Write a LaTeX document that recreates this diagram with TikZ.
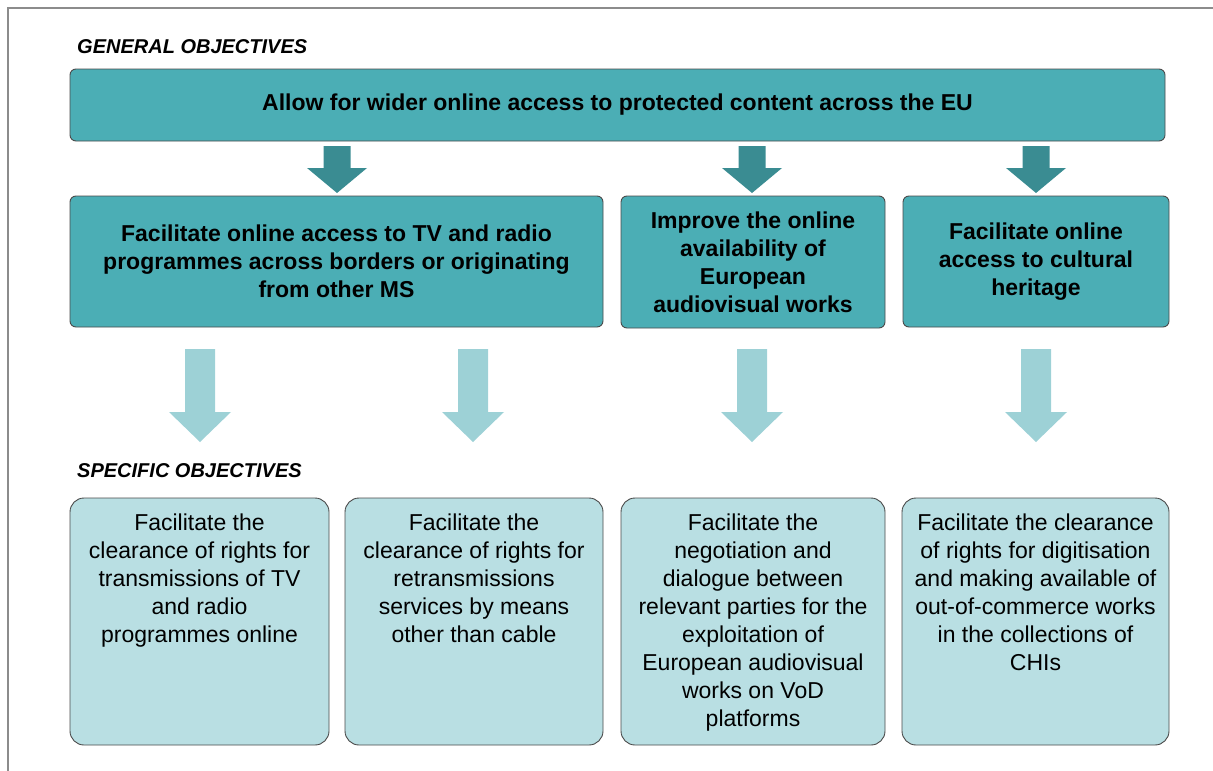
\documentclass[tikz,border=0pt]{standalone}
\usepackage{fontspec}
\setmainfont{Liberation Sans}
\definecolor{teal1}{HTML}{4BAEB5}
\definecolor{tealdark}{HTML}{3A8C92}
\definecolor{teallight}{HTML}{9DD1D6}
\definecolor{boxlight}{HTML}{B9DFE3}
\definecolor{edge}{HTML}{4A4A4A}
\definecolor{frame}{HTML}{8C8C8C}
\newcommand\blkarrow[7]{% color, cx, y0, yh, yt, sw, hw
  \fill[#1] (#2-#6,#3) -- (#2+#6,#3) -- (#2+#6,#4) -- (#2+#7,#4) -- (#2,#5)
    -- (#2-#7,#4) -- (#2-#6,#4) -- cycle;}
\begin{document}
\begin{tikzpicture}[x=1pt,y=-1pt,
  genbox/.style={draw=edge,line width=0.9pt,fill=teal1,rounded corners=6pt,
    inner sep=0pt,align=center,font=\fontsize{23}{28}\selectfont\bfseries},
  specbox/.style={draw=edge,line width=0.9pt,fill=boxlight,rounded corners=14pt,
    inner sep=0pt},
  spectext/.style={anchor=north,inner sep=0pt,align=center,
    font=\fontsize{23}{28}\selectfont},
  heading/.style={anchor=base west,inner sep=0pt,
    font=\fontsize{20}{22}\selectfont\bfseries\itshape}]
\useasboundingbox (0,0) rectangle (1213,771);
\draw[frame,line width=1.5pt] (8,771) -- (8,8) -- (1213,8);

\node[heading] (gh) at (77,53) {GENERAL OBJECTIVES};
\node[genbox,minimum width=1095pt,minimum height=72pt] (top) at (617.5,105)
  {Allow for wider online access to protected content across the EU};

\node[genbox,minimum width=533pt,minimum height=131pt] (g1) at (336.5,261.5)
  {Facilitate online access to TV and radio\\programmes across borders or originating\\from other MS};
\node[genbox,minimum width=264pt,minimum height=132pt] (g2) at (753,262)
  {Improve the online\\availability of\\European\\audiovisual works};
\node[genbox,minimum width=266pt,minimum height=131pt] (g3) at (1036,261.5)
  {Facilitate online\\access to cultural\\heritage};

\blkarrow{tealdark}{337}{146}{168}{193}{13.5}{30}
\blkarrow{tealdark}{752}{146}{168}{193}{13.5}{30}
\blkarrow{tealdark}{1036}{146}{168}{193}{13.5}{30}

\blkarrow{teallight}{200}{349}{412}{442}{15}{31}
\blkarrow{teallight}{473}{349}{412}{442}{15}{31}
\blkarrow{teallight}{752}{349}{412}{442}{15}{31}
\blkarrow{teallight}{1036}{349}{412}{442}{15}{31}

\node[heading] (sh) at (77,477) {SPECIFIC OBJECTIVES};

\node[specbox,minimum width=259pt,minimum height=247pt] (s1) at (199.5,621.5) {};
\node[specbox,minimum width=258pt,minimum height=247pt] (s2) at (474,621.5) {};
\node[specbox,minimum width=264pt,minimum height=247pt] (s3) at (753,621.5) {};
\node[specbox,minimum width=267pt,minimum height=247pt] (s4) at (1035.5,621.5) {};

\node[spectext] (t1) at ([yshift=-16pt]s1.north)
  {Facilitate the\\clearance of rights for\\transmissions of TV\\and radio\\programmes online};
\node[spectext] (t2) at ([yshift=-16pt]s2.north)
  {Facilitate the\\clearance of rights for\\retransmissions\\services by means\\other than cable};
\node[spectext] (t3) at ([yshift=-16pt]s3.north)
  {Facilitate the\\negotiation and\\dialogue between\\relevant parties for the\\exploitation of\\European audiovisual\\works on VoD\\platforms};
\node[spectext] (t4) at ([yshift=-16pt]s4.north)
  {Facilitate the clearance\\of rights for digitisation\\and making available of\\out-of-commerce works\\in the collections of\\CHIs};
\end{tikzpicture}
\end{document}
